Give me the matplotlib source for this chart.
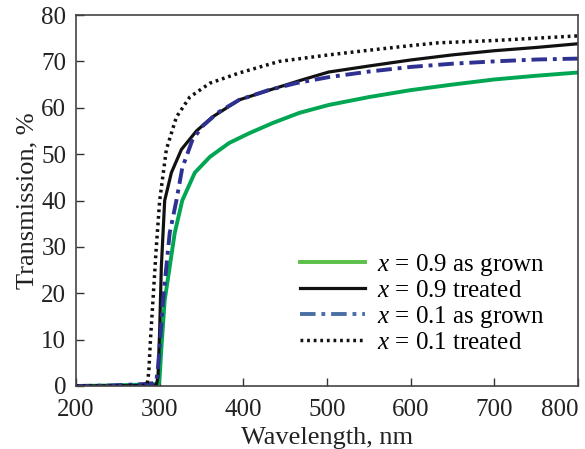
import matplotlib
matplotlib.use("Agg")
import matplotlib.pyplot as plt

# x = 0.9 as grown (green)
wl_g = [200, 240, 280, 295, 299, 300, 302, 306, 312, 318, 327, 342, 360, 383, 407, 435, 467, 502, 550, 600, 650, 700, 750, 800]
tr_g = [0.0, 0.1, 0.3, 0.4, 0.5, 2.0, 8.0, 18.5, 25.7, 33.0, 40.0, 46.0, 49.4, 52.4, 54.5, 56.7, 58.9, 60.6, 62.3, 63.8, 65.0, 66.1, 66.9, 67.6]

# x = 0.9 treated (black solid)
wl_k = [200, 240, 280, 296, 298, 300, 302, 306, 314, 326, 344, 363, 395, 431, 470, 502, 550, 600, 650, 700, 750, 800]
tr_k = [0.0, 0.0, 0.1, 0.2, 2.0, 12.0, 25.7, 40.0, 46.0, 51.0, 55.0, 58.0, 61.7, 63.8, 66.0, 67.7, 69.0, 70.3, 71.4, 72.3, 73.0, 73.8]

# x = 0.1 as grown (blue dash-dot)
wl_b = [200, 240, 280, 292, 296, 298, 301, 304, 312, 320, 327, 339, 351, 370, 395, 430, 463, 502, 550, 600, 650, 700, 750, 800]
tr_b = [0.0, 0.1, 0.4, 0.6, 1.0, 4.0, 11.0, 18.5, 33.0, 40.0, 47.0, 53.0, 56.0, 59.0, 61.7, 63.8, 65.3, 66.6, 67.8, 68.8, 69.5, 70.0, 70.4, 70.6]

# x = 0.1 treated (black dotted)
wl_d = [200, 240, 280, 285, 287, 289, 292, 296, 300, 308, 320, 336, 360, 395, 443, 502, 550, 600, 633, 700, 750, 800]
tr_d = [0.0, 0.0, 0.1, 0.3, 3.0, 10.0, 18.5, 30.0, 40.0, 51.0, 58.0, 62.3, 65.3, 67.5, 70.0, 71.4, 72.4, 73.4, 74.0, 74.5, 75.0, 75.5]

labels = ["$x$ = 0.9 as grown", "$x$ = 0.9 treated", "$x$ = 0.1 as grown", "$x$ = 0.1 treated"]
xticks = [200, 300, 400, 500, 600, 700, 800]
yticks = [0, 10, 20, 30, 40, 50, 60, 70, 80]

plt.rcParams['font.family'] = ['Liberation Serif', 'DejaVu Serif']
plt.rcParams['mathtext.fontset'] = 'custom'
plt.rcParams['mathtext.it'] = 'Liberation Serif:italic'
plt.rcParams['mathtext.rm'] = 'Liberation Serif'

fig = plt.figure(figsize=(5.85, 4.49), dpi=100)
ax = fig.add_axes([76/585, 63/449, 502/585, 371/449])

ax.plot(wl_g, tr_g, color='#00a651', lw=2.8, label=labels[0])
ax.plot(wl_k, tr_k, color='#111111', lw=2.3, label=labels[1])
ax.plot(wl_b, tr_b, color='#2e3192', lw=2.8, linestyle=(0, (4, 1.5, 1, 1.5)), label=labels[2])
ax.plot(wl_d, tr_d, color='#111111', lw=2.5, linestyle=(0, (0.8, 1.1)), label=labels[3])

ax.set_xlim(200, 800)
ax.set_ylim(0, 80)
ax.set_xticks(xticks)
ax.set_xticklabels([str(t) for t in xticks])
ax.set_yticks(yticks)
ax.set_yticklabels([str(t) for t in yticks])
ax.get_xticklabels()[-1].set_horizontalalignment('right')

ax.tick_params(direction='in', length=6, width=1, colors='#333333', labelsize=18,
               labelcolor='#222222')
ax.tick_params(axis='x', pad=9)
ax.tick_params(axis='y', pad=7)
for s in ax.spines.values():
    s.set_color('#444444')
    s.set_linewidth(1.2)

ax.set_xlabel("Wavelength, nm", fontsize=19, color='#222222', labelpad=5)
ax.set_ylabel("Transmission, %", fontsize=19, color='#222222', labelpad=2)

leg = ax.legend(loc='upper left', bbox_to_anchor=(0.446, 0.362), frameon=False,
                fontsize=18, handlelength=2.6, handletextpad=0.5, labelspacing=0.07,
                borderaxespad=0, borderpad=0)
leg.get_lines()[0].set_color('#5cbf4a')
leg.get_lines()[2].set_color('#4a6fa5')

fig.savefig("out.png", dpi=100)
